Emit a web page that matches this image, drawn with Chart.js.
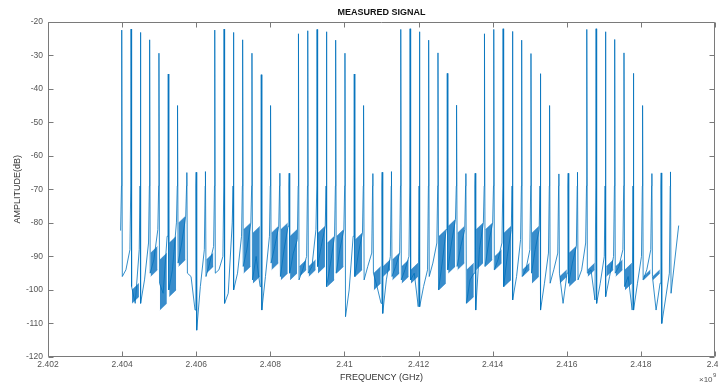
<!DOCTYPE html>
<html>
<head>
<meta charset="utf-8">
<script src="https://cdn.jsdelivr.net/npm/chart.js@4.4.0/dist/chart.umd.min.js"></script>
<style>
html, body { margin: 0; padding: 0; background: #fff; }
#wrap { width: 718px; height: 387px; }
</style>
</head>
<body>
<div id="wrap"><canvas id="signal"></canvas></div>
<script>
// spike positions (GHz)
const spikeFreq = [
  2.403990, 2.404241, 2.404492, 2.404743, 2.404994, 2.405245, 2.405496, 2.405747, 2.405998, 2.406249,
  2.406500, 2.406751, 2.407002, 2.407253, 2.407504, 2.407755, 2.408006, 2.408257, 2.408508,
  2.408759, 2.409010, 2.409261, 2.409512, 2.409763, 2.410014, 2.410265, 2.410516, 2.410767, 2.411018, 2.411269,
  2.411520, 2.411771, 2.412022, 2.412273, 2.412524, 2.412775, 2.413026, 2.413277, 2.413528,
  2.413779, 2.414030, 2.414281, 2.414532, 2.414783, 2.415034, 2.415285, 2.415536, 2.415787, 2.416038, 2.416289,
  2.416540, 2.416791, 2.417042, 2.417293, 2.417544, 2.417795, 2.418046, 2.418297, 2.418548, 2.418799
];
// spike peak levels (dB)
const spikePeak = [
  -22.5, -22.2, -23.2, -25.4, -29.4, -35.6, -45, -65, -64.9, -64.7,
  -22.5, -22.2, -23.2, -25.4, -29.4, -35.8, -45, -65.2, -65.2,
  -23.6, -22.7, -22.3, -23, -25.5, -29.4, -35.6, -45, -65.3, -64.9, -64.7,
  -22.3, -22.1, -23, -25.5, -29.3, -35.4, -44.9, -65.3, -65.2,
  -23.6, -22.3, -22.1, -22.9, -25.5, -29.5, -35.5, -45, -65.4, -65.2, -64.9,
  -22.3, -22.1, -23, -25.3, -29.3, -35.4, -45, -65.3, -65.1, -64.8
];
// floor after each spike: right after the drop, middle, just before the next spike (dB)
const floorDrop = [
  -96, -99, -104, -95, -98, -100, -92, -95, -112, -96,
  -95, -104, -100, -93, -97, -106, -92, -96, -95, -97,
  -95, -93, -99, -95, -108, -96, -97, -95, -107, -96,
  -97, -97, -105, -96, -100, -94, -93, -104, -106, -93,
  -94, -99, -103, -96, -95, -106, -98, -95, -98, -97,
  -95, -104, -102, -95, -99, -106, -97, -96, -110
];
const floorMid = [
  -94, -104, -97, -91, -101, -94, -86, -96, -99, -92,
  -94, -101, -95, -88, -90, -96, -87, -88, -89, -94,
  -93, -87, -92, -88, -100, -89, -93, -99, -97, -93,
  -94, -95, -99, -92, -92, -86, -87, -97, -88, -86,
  -91, -90, -96, -94, -88, -98, -94, -104, -92, -94,
  -94, -98, -96, -93, -96, -98, -94, -106, -103
];
const floorPre = [
  -88, -88, -86, -82, -84, -80, -78, -106, -88, -87,
  -90, -80, -84, -80, -99, -84, -81, -81, -85, -90,
  -82, -81, -84, -82, -84, -83, -89, -104, -90, -89,
  -90, -105, -94, -86, -82, -79, -82, -95, -80, -80,
  -86, -82, -85, -88, -82, -89, -89, -95, -87, -86,
  -103, -90, -90, -88, -106, -90, -88, -98, -95
];
// dense noise blocks between spikes (dB), null where the trace is clean
const noiseTop = [
  null, -98, null, -87, -89, -84, -78, null, null, -89,
  null, null, null, -80, -81, null, -81, -80, -82, -91,
  -91, -81, -84, -82, null, -83, null, -93, -91, -89,
  -91, -92, null, null, -82, -79, -81, -92, -80, -80,
  -88, -81, null, -92, -81, null, null, -94, -87, null,
  -92, null, -91, -91, -92, null, -94, -94, null
];
const noiseBot = [
  null, -104, null, -96, -106, -102, -93, null, null, -95,
  null, null, null, -95, -98, null, -94, -97, -97, -96,
  -96, -95, -99, -95, null, -96, null, -100, -96, -97,
  -98, -98, null, null, -100, -95, -94, -104, -94, -93,
  -94, -99, null, -96, -98, null, null, -98, -99, null,
  -96, null, -96, -96, -100, null, -97, -97, null
];
const traceStart = [2.40396, -82.3];
const traceEnd = [2.41902, -80.8];
const tailDrop = -101;
const shoulder = -69;

const xTicks = [2.402, 2.404, 2.406, 2.408, 2.41, 2.412, 2.414, 2.416, 2.418, 2.42];
const yTicks = [-120, -110, -100, -90, -80, -70, -60, -50, -40, -30, -20];

const FONT = "'Liberation Sans', Arial, Helvetica, sans-serif";
const lineBlue = 'rgba(0,114,189,0.8)';

// build the trace from the arrays above
const last = spikeFreq.length - 1;
const trace = [{x: traceStart[0], y: traceStart[1]}];
const bandHi = [];
const bandLo = [];
for (let k = 0; k <= last; k++) {
  const f = spikeFreq[k];
  const step = k < last ? spikeFreq[k + 1] - f : f - spikeFreq[k - 1];
  trace.push({x: f - 0.03 * step, y: shoulder});
  trace.push({x: f, y: spikePeak[k]});
  if (k < last) {
    trace.push({x: f + 0.06 * step, y: floorDrop[k]});
    trace.push({x: f + 0.45 * step, y: floorMid[k]});
    trace.push({x: f + 0.88 * step, y: floorPre[k]});
    if (noiseTop[k] !== null) {
      const x0 = f + 0.1 * step, x1 = f + 0.85 * step;
      bandHi.push({x: x0, y: noiseTop[k] - 2}, {x: x1, y: noiseTop[k]}, {x: x1 + 0.01 * step, y: null});
      bandLo.push({x: x0, y: noiseBot[k]}, {x: x1, y: noiseBot[k] + 2}, {x: x1 + 0.01 * step, y: null});
    }
  } else {
    trace.push({x: f + 0.06 * step, y: tailDrop});
  }
}
trace.push({x: traceEnd[0], y: traceEnd[1]});

// matlab style box with inward ticks
const boxPlugin = {
  id: 'boxPlugin',
  afterDatasetsDraw(chart) {
    const {ctx, chartArea: a, scales: {x, y}} = chart;
    ctx.save();
    ctx.strokeStyle = '#7a7a7a';
    ctx.lineWidth = 1;
    ctx.beginPath();
    const L = Math.round(a.left) + 0.5, R = Math.round(a.right) - 0.5;
    const T = Math.round(a.top) + 0.5, B = Math.round(a.bottom) - 0.5;
    ctx.rect(L, T, R - L, B - T);
    xTicks.forEach(v => {
      const px = Math.round(x.getPixelForValue(v)) + 0.5;
      ctx.moveTo(px, B); ctx.lineTo(px, B - 5);
      ctx.moveTo(px, T); ctx.lineTo(px, T + 5);
    });
    yTicks.forEach(v => {
      const py = Math.round(y.getPixelForValue(v)) + 0.5;
      ctx.moveTo(L, py); ctx.lineTo(L + 5, py);
      ctx.moveTo(R, py); ctx.lineTo(R - 5, py);
    });
    ctx.stroke();
    ctx.fillStyle = '#555';
    ctx.textBaseline = 'alphabetic';
    ctx.textAlign = 'left';
    ctx.font = '8px ' + FONT;
    ctx.fillText('\u00d710', 699, 382);
    ctx.font = '6px ' + FONT;
    ctx.fillText('9', 713, 377);
    ctx.restore();
  }
};

new Chart(document.getElementById('signal'), {
  type: 'line',
  data: {
    datasets: [
      {
        data: trace,
        borderColor: lineBlue,
        borderWidth: 1,
        pointRadius: 0,
        tension: 0,
        fill: false
      },
      {
        data: bandHi,
        borderColor: 'rgba(0,110,190,0.7)',
        borderWidth: 0.5,
        pointRadius: 0,
        fill: false
      },
      {
        data: bandLo,
        borderColor: 'rgba(0,110,190,0.7)',
        backgroundColor: 'rgba(0,108,188,0.78)',
        borderWidth: 0.5,
        pointRadius: 0,
        fill: '-1'
      }
    ]
  },
  options: {
    responsive: true,
    maintainAspectRatio: false,
    animation: false,
    layout: { padding: { top: 0, right: 3, bottom: 0, left: 0 } },
    plugins: {
      legend: { display: false },
      tooltip: { enabled: false },
      title: {
        display: true,
        text: 'MEASURED SIGNAL',
        fullSize: false,
        color: '#111',
        font: { family: FONT, size: 9, weight: 'bold' },
        padding: { top: 7.5, bottom: 3.4 }
      }
    },
    scales: {
      x: {
        type: 'linear',
        min: 2.402,
        max: 2.42,
        afterBuildTicks: s => { s.ticks = xTicks.map(v => ({value: v})); },
        afterFit: s => { s.height = 30; s.paddingLeft = 0; s.paddingRight = 0; },
        grid: { display: false, drawTicks: false },
        border: { display: false },
        ticks: {
          padding: 3,
          maxRotation: 0,
          autoSkip: false,
          color: '#555',
          font: { family: FONT, size: 8.5 },
          callback: v => String(parseFloat(Number(v).toFixed(3)))
        },
        title: {
          display: true,
          text: 'FREQUENCY (GHz)',
          color: '#333',
          font: { family: FONT, size: 9 },
          padding: { top: 0, bottom: 3.6 }
        }
      },
      y: {
        min: -120,
        max: -20,
        afterBuildTicks: s => { s.ticks = yTicks.map(v => ({value: v})); },
        afterFit: s => { s.width = 48; s.paddingTop = 0; s.paddingBottom = 0; },
        grid: { display: false, drawTicks: false },
        border: { display: false },
        ticks: {
          padding: 5,
          color: '#555',
          font: { family: FONT, size: 8.5 },
          callback: v => String(v)
        },
        title: {
          display: true,
          text: 'AMPLITUDE(dB)',
          color: '#333',
          font: { family: FONT, size: 9 },
          padding: { top: 12.6, bottom: 0 }
        }
      }
    }
  },
  plugins: [boxPlugin]
});
</script>
</body>
</html>
